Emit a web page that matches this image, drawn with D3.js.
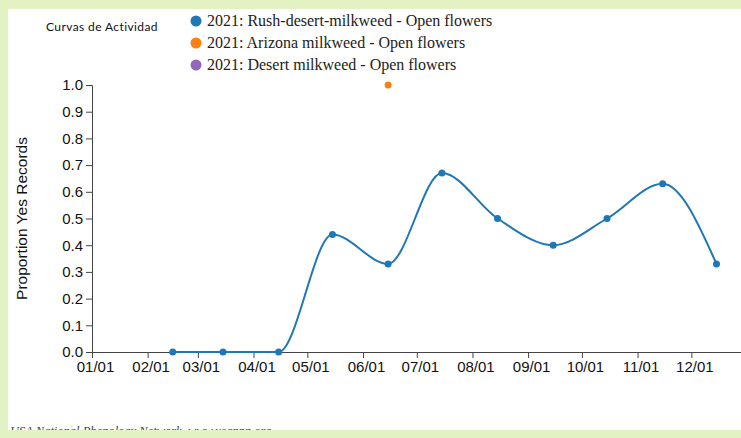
<!DOCTYPE html>
<html>
<head>
<meta charset="utf-8">
<script src="https://cdn.jsdelivr.net/npm/d3@7"></script>
<style>
  body { margin: 0; padding: 0; background: #fff; }
  svg { display: block; }
</style>
</head>
<body>
<div id="chart"></div>
<script>
// data
const months = ["01/01", "02/01", "03/01", "04/01", "05/01", "06/01", "07/01", "08/01", "09/01", "10/01", "11/01", "12/01"];
const rushDates = ["2021-02-15", "2021-03-15", "2021-04-15", "2021-05-15", "2021-06-15", "2021-07-15",
  "2021-08-15", "2021-09-15", "2021-10-15", "2021-11-15", "2021-12-15"];
const rushValues = [0, 0, 0, 0.44, 0.33, 0.67, 0.5, 0.4, 0.5, 0.63, 0.33];
const arizonaDates = ["2021-06-15"];
const arizonaValues = [1.0];
const desertDates = [];
const desertValues = [];
const legendLabels = [
  "2021: Rush-desert-milkweed - Open flowers",
  "2021: Arizona milkweed - Open flowers",
  "2021: Desert milkweed - Open flowers"
];
const seriesColors = ["#1f77b4", "#ff7f0e", "#9467bd"];
const yTicks = [0, 0.1, 0.2, 0.3, 0.4, 0.5, 0.6, 0.7, 0.8, 0.9, 1.0];

const width = 741;
const height = 438;
const margin = { top: 85, right: -6, bottom: 86, left: 92 };
const parse = d3.timeParse("%Y-%m-%d");

const svg = d3.select("#chart").append("svg")
  .attr("width", width)
  .attr("height", height);

svg.append("rect")
  .attr("width", width)
  .attr("height", height)
  .attr("fill", "#fff");

const x = d3.scaleTime()
  .domain([parse("2021-01-01"), parse("2022-01-01")])
  .range([margin.left, width - margin.right]);

const y = d3.scaleLinear()
  .domain([0, 1])
  .range([height - margin.bottom, margin.top]);

const xAxis = svg.append("g")
  .attr("transform", `translate(0,${height - margin.bottom})`)
  .call(d3.axisBottom(x)
    .tickValues(months.map(m => parse("2021-" + m.replace("/", "-"))))
    .tickFormat(d3.timeFormat("%m/%d"))
    .tickSizeOuter(0));

const yAxis = svg.append("g")
  .attr("transform", `translate(${margin.left},0)`)
  .call(d3.axisLeft(y).tickValues(yTicks).tickFormat(d3.format(".1f")));

[xAxis, yAxis].forEach(a => {
  a.selectAll("text")
    .style("font-family", "'Liberation Sans', Arial, sans-serif")
    .style("font-size", "15px")
    .attr("fill", "#111");
  a.selectAll("path, line").attr("stroke", "#444");
});
xAxis.selectAll("text").attr("dx", 3);

svg.append("text")
  .attr("transform", `translate(27,${(margin.top + height - margin.bottom) / 2}) rotate(-90)`)
  .attr("text-anchor", "middle")
  .style("font-family", "'Liberation Sans', Arial, sans-serif")
  .style("font-size", "15.5px")
  .attr("fill", "#111")
  .text("Proportion Yes Records");

const rush = rushDates.map((d, i) => ({ date: parse(d), value: rushValues[i] }));
const arizona = arizonaDates.map((d, i) => ({ date: parse(d), value: arizonaValues[i] }));
const desert = desertDates.map((d, i) => ({ date: parse(d), value: desertValues[i] }));

const line = d3.line()
  .x(d => x(d.date))
  .y(d => y(d.value))
  .curve(d3.curveMonotoneX);

[rush, arizona, desert].forEach((series, i) => {
  if (series.length > 1) {
    svg.append("path")
      .datum(series)
      .attr("fill", "none")
      .attr("stroke", seriesColors[i])
      .attr("stroke-width", 2)
      .attr("d", line);
  }
  svg.append("g").selectAll("circle")
    .data(series)
    .join("circle")
    .attr("cx", d => x(d.date))
    .attr("cy", d => y(d.value))
    .attr("r", 3.5)
    .attr("fill", seriesColors[i]);
});

// legend
const legend = svg.append("g").attr("transform", "translate(196,21)");
legendLabels.forEach((label, i) => {
  const g = legend.append("g").attr("transform", `translate(0,${i * 22})`);
  g.append("circle")
    .attr("r", 5.5)
    .attr("fill", seriesColors[i]);
  g.append("text")
    .attr("x", 11)
    .attr("y", 5)
    .style("font-family", "'Liberation Serif', 'Times New Roman', serif")
    .style("font-size", "16px")
    .attr("fill", "#222")
    .text(label);
});

svg.append("text")
  .attr("x", 46)
  .attr("y", 31)
  .style("font-family", "Lato, 'Noto Sans', sans-serif")
  .style("font-size", "12px")
  .style("letter-spacing", "0.4px")
  .attr("fill", "#111")
  .text("Curvas de Actividad");

svg.append("text")
  .attr("x", 10)
  .attr("y", 435)
  .style("font-family", "'Liberation Serif', 'Times New Roman', serif")
  .style("font-style", "italic")
  .style("font-size", "12.5px")
  .attr("fill", "#444")
  .text("USA National Phenology Network, www.usanpn.org");

// green frame
const frame = "#e2f2c3";
svg.append("rect").attr("x", 0).attr("y", 0).attr("width", width).attr("height", 9).attr("fill", frame);
svg.append("rect").attr("x", 0).attr("y", 0).attr("width", 8).attr("height", height).attr("fill", frame);
svg.append("rect").attr("x", 0).attr("y", 430).attr("width", width).attr("height", 8).attr("fill", frame);
</script>
</body>
</html>
